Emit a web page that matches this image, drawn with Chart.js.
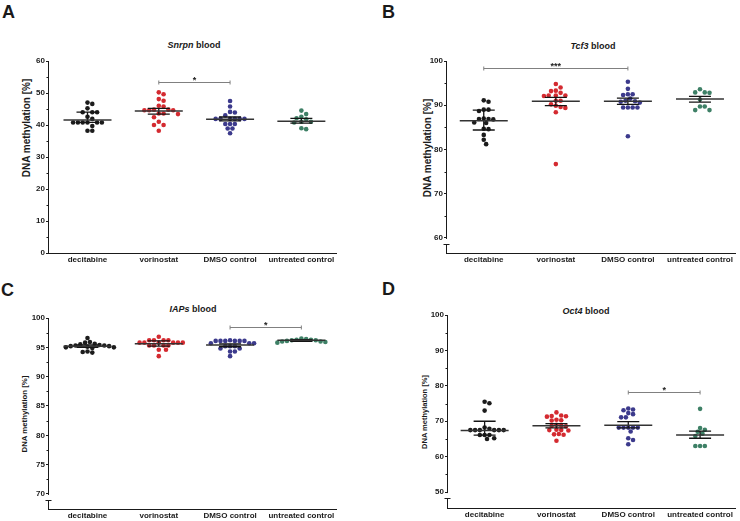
<!DOCTYPE html>
<html>
<head>
<meta charset="utf-8">
<script src="https://cdn.jsdelivr.net/npm/chart.js@4"></script>
<style>
  body { margin: 0; width: 740px; height: 521px; background: #fff; position: relative; overflow: hidden;
         font-family: "Liberation Sans", Arial, sans-serif; color: #1a1a1a; }
  canvas { position: absolute; }
  .letter { position: absolute; font-weight: bold; font-size: 18px; line-height: 18px; }
  .title { position: absolute; font-weight: bold; font-size: 9px; line-height: 9px; white-space: nowrap;
           transform: translate(-50%, -50%); }
  .ylab { position: absolute; font-weight: bold; white-space: nowrap; line-height: 1;
          transform: translate(-50%, -50%) rotate(-90deg); }
</style>
</head>
<body>
<div class="letter" style="left:2px;top:3px">A</div>
<div class="letter" style="left:382px;top:3px">B</div>
<div class="letter" style="left:1px;top:281px">C</div>
<div class="letter" style="left:382px;top:280px">D</div>

<div class="title" style="left:194px;top:45px"><i>Snrpn</i> blood</div>
<div class="title" style="left:593px;top:46px"><i>Tcf3</i> blood</div>
<div class="title" style="left:193px;top:309px"><i>IAPs</i> blood</div>
<div class="title" style="left:586px;top:311px"><i>Oct4</i> blood</div>

<div class="ylab" style="left:27px;top:128px;font-size:10px">DNA methylation [%]</div>
<div class="ylab" style="left:428px;top:148px;font-size:10px">DNA methylation [%]</div>
<div class="ylab" style="left:25px;top:414px;font-size:7.8px">DNA methylation [%]</div>
<div class="ylab" style="left:425px;top:412px;font-size:7.5px">DNA methylation [%]</div>

<canvas id="cA" width="370" height="272" style="left:0;top:0"></canvas>
<canvas id="cB" width="370" height="272" style="left:370px;top:0"></canvas>
<canvas id="cC" width="370" height="256" style="left:0;top:265px"></canvas>
<canvas id="cD" width="370" height="256" style="left:370px;top:265px"></canvas>

<script>
const groups = ['decitabine', 'vorinostat', 'DMSO control', 'untreated control'];
const colors = ['#1c1c1c', '#d42a30', '#3c3a8c', '#3e8066'];

// Snrpn blood
const snrpnDecitabine = [47.0, 46.6, 45.2, 44.0, 44.0, 44.0, 42.6, 41.9, 40.8, 40.8, 40.8, 40.8, 40.8, 40.8, 39.7, 38.2, 38.2];
const snrpnVorinostat = [50.2, 49.6, 48.1, 47.6, 46.0, 45.8, 44.8, 44.8, 44.6, 44.6, 44.6, 43.6, 43.4, 43.6, 42.4, 41.0, 40.0, 40.0, 38.2];
const snrpnDmso = [47.5, 45.8, 44.1, 43.9, 43.0, 41.9, 41.9, 41.9, 41.9, 41.9, 41.9, 40.3, 40.3, 40.3, 38.9, 38.9, 37.4];
const snrpnUntreated = [44.5, 43.4, 42.6, 42.1, 41.8, 41.0, 41.0, 40.8, 39.0, 38.7];
const snrpnMedian = [41.6, 44.4, 41.8, 41.2];
const snrpnQ1 = [40.8, 43.4, 41.3, 40.6];
const snrpnQ3 = [44.0, 45.2, 42.5, 42.1];
const snrpnTicks = [0, 10, 20, 30, 40, 50, 60];
const snrpnSig = [1, 2, 53.4, '*'];

// Tcf3 blood
const tcf3Decitabine = [91.1, 90.8, 89.0, 89.0, 88.7, 87.0, 86.9, 86.8, 86.9, 86.0, 86.1, 84.7, 84.6, 83.3, 82.2, 81.2];
const tcf3Vorinostat = [94.8, 94.0, 93.3, 93.2, 92.8, 92.2, 92.2, 92.1, 92.2, 91.0, 91.0, 90.2, 89.9, 89.6, 89.4, 88.4, 76.7];
const tcf3Dmso = [95.3, 93.7, 92.5, 92.3, 92.5, 91.5, 91.0, 90.9, 90.8, 90.6, 89.5, 89.5, 89.5, 89.5, 83.0];
const tcf3Untreated = [93.6, 92.9, 92.8, 92.9, 91.3, 89.7, 89.7, 88.9, 88.9];
const tcf3Median = [86.5, 90.9, 90.9, 91.4];
const tcf3Q1 = [84.4, 89.9, 90.2, 90.7];
const tcf3Q3 = [88.9, 91.8, 91.6, 92.0];
const tcf3Ticks = [60, 70, 80, 90, 100];
const tcf3Sig = [0, 2, 98.4, '***'];

// IAPs blood
const iapsDecitabine = [96.6, 95.9, 95.8, 95.6, 95.5, 95.4, 95.3, 95.3, 95.2, 95.2, 95.1, 95.0, 95.0, 94.9, 94.3, 94.2, 94.1];
const iapsVorinostat = [96.8, 96.2, 96.2, 96.2, 96.2, 95.8, 95.8, 95.8, 95.8, 95.8, 95.8, 95.3, 95.3, 95.3, 95.3, 94.6, 94.6, 93.5];
const iapsDmso = [96.2, 96.1, 96.1, 96.1, 96.1, 96.1, 96.1, 95.7, 95.7, 95.7, 95.2, 95.2, 95.2, 94.8, 94.8, 94.3, 94.3, 93.5];
const iapsUntreated = [96.5, 96.4, 96.3, 96.3, 96.2, 96.2, 96.1, 96.0, 96.0, 95.9, 95.8];
const iapsMedian = [95.2, 95.6, 95.4, 96.2];
const iapsQ1 = [95.0, 95.2, 95.1, 96.0];
const iapsQ3 = [95.4, 96.1, 95.6, 96.3];
const iapsTicks = [70, 75, 80, 85, 90, 95, 100];
const iapsSig = [2, 3, 98.5, '*'];

// Oct4 blood
const oct4Decitabine = [75.5, 75.1, 73.0, 68.2, 67.9, 67.5, 67.5, 67.5, 67.5, 67.5, 67.5, 66.1, 66.1, 66.1, 65.2, 65.0];
const oct4Vorinostat = [72.5, 71.6, 71.4, 71.3, 71.5, 70.4, 70.2, 70.3, 69.0, 68.8, 68.6, 68.7, 67.6, 67.5, 67.4, 67.5, 66.3, 66.2, 66.4, 64.5];
const oct4Dmso = [73.6, 73.3, 73.1, 72.3, 72.0, 71.1, 71.1, 68.2, 68.2, 68.2, 68.2, 68.2, 67.1, 65.2, 64.7, 63.5];
const oct4Untreated = [73.5, 68.1, 67.6, 67.0, 66.5, 65.8, 63.0, 63.0, 63.0];
const oct4Median = [67.4, 68.7, 68.9, 66.1];
const oct4Q1 = [66.1, 68.1, 68.1, 65.2];
const oct4Q3 = [70.0, 69.3, 69.9, 67.2];
const oct4Ticks = [50, 60, 70, 80, 90, 100];
const oct4Sig = [2, 3, 78.3, '*'];

Chart.defaults.font.family = '"Liberation Sans", Arial, sans-serif';
Chart.defaults.font.weight = 'bold';
Chart.defaults.font.size = 8;
Chart.defaults.color = '#1a1a1a';

const YW = 26, XH = 14;

// where each plot box sits on the page (style only)
const panels = [
  { canvas: 'cA', box: [0, 0, 370, 272], axisX: 49, right: 337, top: 61, bottom: 253, yMin: 0, yMax: 60, xMin: -0.04,
    series: [snrpnDecitabine, snrpnVorinostat, snrpnDmso, snrpnUntreated],
    mid: snrpnMedian, lo: snrpnQ1, hi: snrpnQ3, ticks: snrpnTicks, sig: snrpnSig, brk: false },
  { canvas: 'cB', box: [370, 0, 370, 272], axisX: 447, right: 738, top: 61, bottom: 253, yMin: 56.6, yMax: 100, xMin: -0.01,
    series: [tcf3Decitabine, tcf3Vorinostat, tcf3Dmso, tcf3Untreated],
    mid: tcf3Median, lo: tcf3Q1, hi: tcf3Q3, ticks: tcf3Ticks, sig: tcf3Sig, brk: true },
  { canvas: 'cC', box: [0, 265, 370, 256], axisX: 49, right: 337, top: 318, bottom: 509, yMin: 67.44, yMax: 100, xMin: -0.04,
    series: [iapsDecitabine, iapsVorinostat, iapsDmso, iapsUntreated],
    mid: iapsMedian, lo: iapsQ1, hi: iapsQ3, ticks: iapsTicks, sig: iapsSig, brk: true },
  { canvas: 'cD', box: [370, 265, 370, 256], axisX: 448, right: 738, top: 315, bottom: 508, yMin: 45.5, yMax: 100, xMin: -0.01,
    series: [oct4Decitabine, oct4Vorinostat, oct4Dmso, oct4Untreated],
    mid: oct4Median, lo: oct4Q1, hi: oct4Q3, ticks: oct4Ticks, sig: oct4Sig, brk: true },
];

// GraphPad-like scatter: push overlapping dots sideways
function swarm(vals, pxY) {
  const d = 4.8, step = d / 2, placed = [];
  const offs = vals.map(() => 0);
  const order = vals.map((v, i) => i).sort((a, b) => vals[b] - vals[a]);
  order.forEach(i => {
    const y = vals[i] * pxY;
    for (let k = 0; k < 60; k++) {
      const dx = (k % 2 ? 1 : -1) * Math.ceil(k / 2) * step;
      if (placed.every(p => (p.x - dx) ** 2 + (p.y - y) ** 2 >= d * d * 0.9)) {
        offs[i] = dx;
        placed.push({ x: dx, y });
        break;
      }
    }
  });
  return offs;
}

const extras = {
  id: 'extras',
  afterDatasetsDraw(chart, args, o) {
    const { ctx, chartArea } = chart;
    const xs = chart.scales.x, ys = chart.scales.y;
    ctx.save();
    ctx.lineCap = 'butt';

    // median with interquartile range
    o.mid.forEach((m, i) => {
      const cx = xs.getPixelForValue(i + 0.5);
      const yl = ys.getPixelForValue(o.lo[i]), yh = ys.getPixelForValue(o.hi[i]), ym = ys.getPixelForValue(m);
      ctx.strokeStyle = '#141414';
      ctx.lineWidth = 1.3;
      ctx.beginPath();
      ctx.moveTo(cx, yl); ctx.lineTo(cx, yh);
      ctx.moveTo(cx - 11, yl); ctx.lineTo(cx + 11, yl);
      ctx.moveTo(cx - 11, yh); ctx.lineTo(cx + 11, yh);
      ctx.stroke();
      ctx.strokeStyle = '#333';
      ctx.lineWidth = 1.5;
      ctx.beginPath();
      ctx.moveTo(cx - 24, ym); ctx.lineTo(cx + 24, ym);
      ctx.stroke();
    });

    // significance bracket
    const [a, b, yv, label] = o.sig;
    const x1 = xs.getPixelForValue(a + 0.5), x2 = xs.getPixelForValue(b + 0.5);
    const by = Math.round(ys.getPixelForValue(yv)) + 0.5;
    ctx.strokeStyle = '#808080';
    ctx.lineWidth = 1;
    ctx.beginPath();
    ctx.moveTo(x1, by); ctx.lineTo(x2, by);
    ctx.moveTo(x1, by - 2); ctx.lineTo(x1, by + 2);
    ctx.moveTo(x2, by - 2); ctx.lineTo(x2, by + 2);
    ctx.stroke();
    ctx.fillStyle = '#222';
    ctx.font = 'bold 9px "Liberation Sans", Arial, sans-serif';
    ctx.textAlign = 'center';
    ctx.textBaseline = 'alphabetic';
    ctx.fillText(label, (x1 + x2) / 2, by + 0.5);

    // axes: y line (with a break when it does not start at the lowest tick) and x line
    const ax = chartArea.left - 0.5;
    const bot = Math.round(chartArea.bottom) + 0.5;
    ctx.strokeStyle = '#1a1a1a';
    ctx.lineWidth = 1;
    ctx.beginPath();
    if (o.brk) {
      const ly = ys.getPixelForValue(o.ticks[0]);
      ctx.moveTo(ax, chartArea.top); ctx.lineTo(ax, ly + 1);
      const gy = Math.round(ly) + 6.5;
      ctx.moveTo(ax - 3, gy); ctx.lineTo(ax + 3, gy);
      ctx.moveTo(ax, gy); ctx.lineTo(ax, bot);
    } else {
      ctx.moveTo(ax, chartArea.top); ctx.lineTo(ax, bot);
    }
    ctx.moveTo(ax - 0.5, bot); ctx.lineTo(chartArea.right, bot);
    // minor ticks
    for (let i = 0; i < o.ticks.length - 1; i++) {
      const my = Math.round(ys.getPixelForValue((o.ticks[i] + o.ticks[i + 1]) / 2)) + 0.5;
      ctx.moveTo(ax - 2, my); ctx.lineTo(ax, my);
    }
    ctx.stroke();
    ctx.restore();
  }
};

panels.forEach(p => {
  const [bx, by, bw, bh] = p.box;
  const pxX = (p.right - p.axisX) / (4 - p.xMin);
  const pxY = (p.bottom - p.top) / (p.yMax - p.yMin);
  const datasets = p.series.map((vals, g) => {
    const offs = swarm(vals, pxY);
    return {
      label: groups[g],
      data: vals.map((v, k) => ({ x: g + 0.5 + offs[k] / pxX, y: v })),
      backgroundColor: colors[g],
      pointRadius: 2.3,
      pointBorderWidth: 0,
      showLine: false,
    };
  });

  new Chart(document.getElementById(p.canvas), {
    type: 'scatter',
    data: { datasets },
    options: {
      responsive: false,
      animation: false,
      devicePixelRatio: 1,
      events: [],
      layout: {
        padding: {
          left: p.axisX - bx - YW,
          top: p.top - by,
          right: bx + bw - p.right,
          bottom: by + bh - p.bottom - XH,
        },
      },
      plugins: {
        legend: { display: false },
        tooltip: { enabled: false },
        extras: { mid: p.mid, lo: p.lo, hi: p.hi, ticks: p.ticks, sig: p.sig, brk: p.brk },
      },
      scales: {
        x: {
          type: 'linear',
          min: p.xMin,
          max: 4,
          afterBuildTicks: s => { s.ticks = groups.map((g, i) => ({ value: i + 0.5 })); },
          afterFit: s => { s.height = XH; },
          ticks: {
            autoSkip: false,
            maxRotation: 0,
            padding: 2,
            callback: v => groups[Math.round(v - 0.5)],
          },
          grid: { display: false, drawTicks: false },
          border: { display: false },
        },
        y: {
          min: p.yMin,
          max: p.yMax,
          afterBuildTicks: s => { s.ticks = p.ticks.map(v => ({ value: v })); },
          afterFit: s => { s.width = YW; },
          ticks: { padding: 1 },
          grid: { display: true, drawOnChartArea: false, drawTicks: true, tickLength: 3, tickColor: '#1a1a1a', tickWidth: 1 },
          border: { display: false },
        },
      },
    },
    plugins: [extras],
  });
});
</script>
</body>
</html>
